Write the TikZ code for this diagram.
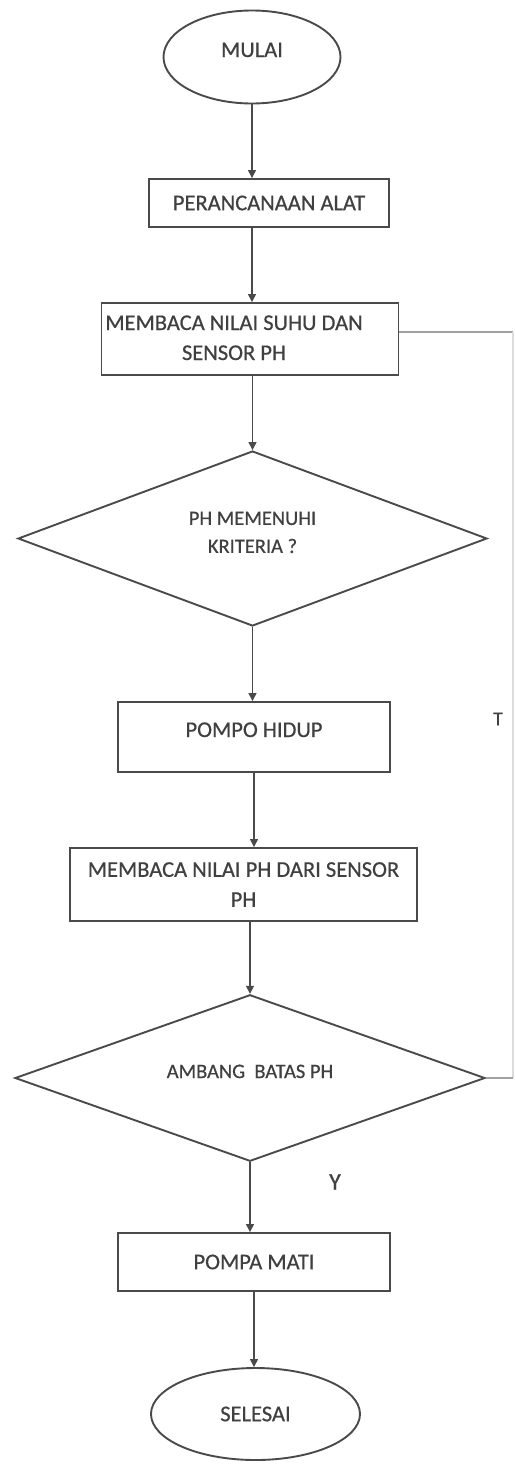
\documentclass[tikz,border=0pt]{standalone}
\usepackage{fontspec}
\setmainfont{Carlito}[FakeBold=0.6]
\usetikzlibrary{shapes.geometric,arrows.meta}
\definecolor{ln}{HTML}{4A4A4A}
\definecolor{tx}{HTML}{404040}
\definecolor{fb}{HTML}{A0A0A0}
\definecolor{fv}{HTML}{DCDCDC}
\newcommand\zb[1]{\raisebox{0pt}[0pt][0pt]{#1}}
\tikzset{
  base/.style={draw=ln, line width=1.9pt, inner sep=0pt, text=tx},
  boxnode/.style={base, rectangle, font=\fontsize{22.5}{30}\selectfont, align=center},
  term/.style={base, ellipse, font=\fontsize{22.5}{30}\selectfont},
  dec/.style={base, diamond, font=\fontsize{20.5}{28}\selectfont, align=center},
  arr/.style={draw=ln, line width=1.4pt, -{Triangle[width=8pt,length=8pt]}},
  fbline/.style={draw=fb, line width=1.3pt},
  fvline/.style={draw=fv, line width=1.3pt},
  lab/.style={text=tx, inner sep=0pt}
}
\begin{document}
\begin{tikzpicture}[x=1pt,y=-1pt]
\useasboundingbox (0,0) rectangle (514,1467);
\fill[white] (0,0) rectangle (514,1467);
\node[term, minimum width=177pt, minimum height=93pt] (start) at (252,57) {\zb{MULAI}};
\node[boxnode, minimum width=240pt, minimum height=48pt] (b1) at (269,203) {PERANCANAAN ALAT};
\node[boxnode, minimum width=297pt, minimum height=72pt] (b2) at (250,339) {\begin{tabular}{@{}c@{\hspace{32pt}}}MEMBACA NILAI SUHU DAN\\SENSOR PH\end{tabular}};
\node[dec, minimum width=469pt, minimum height=175pt] (d1) at (252.5,538.5) {\zb{\begin{tabular}{@{}c@{}}PH MEMENUHI\\KRITERIA ?\end{tabular}}};
\node[boxnode, minimum width=272pt, minimum height=70pt] (b3) at (254,737) {\zb{POMPO HIDUP}};
\node[boxnode, minimum width=347pt, minimum height=73pt] (b4) at (243.5,884.5) {MEMBACA NILAI PH DARI SENSOR\\PH};
\node[dec, minimum width=470pt, minimum height=160pt] (d2) at (250,1078) {\zb{AMBANG\ \ BATAS PH}};
\node[boxnode, minimum width=272pt, minimum height=58pt] (b5) at (254,1262) {POMPA MATI};
\node[term, minimum width=209pt, minimum height=92pt] (end) at (255.5,1414) {SELESAI};
\node[lab, font=\fontsize{20}{24}\selectfont] (t) at (498,719) {T};
\node[lab, font=\fontsize{24}{28}\selectfont] (y) at (335,1182) {Y};
\coordinate (rt) at (513,332);
\coordinate (rb) at (513,1078);

\draw[arr] (start.south) -- (start.south |- b1.north);
\draw[arr] (start.south |- b1.south) -- (start.south |- b2.north);
\draw[arr] (d1.north |- b2.south) -- (d1.north);
\draw[arr] (d1.south) -- (d1.south |- b3.north);
\draw[arr] (b3.south) -- (b3.south |- b4.north);
\draw[arr] (d2.north |- b4.south) -- (d2.north);
\draw[arr] (d2.south) -- (d2.south |- b5.north);
\draw[arr] (b5.south) -- (b5.south |- end.north);
\draw[fbline] (b2.east |- rt) -- (rt);
\draw[fvline] (rt) -- (rb);
\draw[fbline] (d2.east) -- (rb);
\end{tikzpicture}
\end{document}
